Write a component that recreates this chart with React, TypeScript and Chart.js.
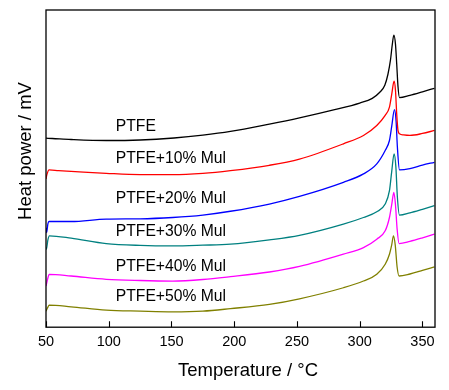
import React, { useEffect, useRef } from "react";
import { Chart, registerables } from "chart.js";

Chart.register(...registerables);

const xTicks = [50, 100, 150, 200, 250, 300, 350];
const seriesNames = ["PTFE", "PTFE+10% Mul", "PTFE+20% Mul", "PTFE+30% Mul", "PTFE+40% Mul", "PTFE+50% Mul"];
const seriesColors = ["#000000", "#ff0000", "#0000ff", "#008080", "#ff00ff", "#808000"];

const ptfeT = [50, 55, 70, 98, 125, 152, 175, 197, 228, 252, 280, 300, 310, 316, 320, 322.5, 324.5, 326, 327.2, 328.5, 329.5, 330.5, 331.7, 340, 350, 359.5];
const ptfeV = [188.3, 188, 187, 186, 186.5, 188.5, 191.3, 195, 202.3, 208.5, 216.7, 223.3, 228, 234, 241, 252, 266, 282, 291, 282, 262, 240, 228.7, 231, 234.5, 238];

const mul10T = [50, 50.7, 52.5, 60, 70, 98, 125, 151, 175, 197, 228, 252, 287, 303, 313.6, 320.3, 323.7, 325.5, 327.4, 328.5, 329.5, 330.5, 331.7, 335, 340, 350, 359.5];
const mul10V = [147.7, 152, 156.7, 156, 155.3, 153.3, 152, 152, 153.3, 156, 161.3, 167.5, 182.7, 191, 201, 211, 219.3, 232, 245, 236, 212, 196, 192.7, 191.5, 191, 193, 196];

const mul20T = [50, 50.5, 51.5, 52.4, 70, 98, 125, 151, 175, 197, 228, 252, 287, 303, 313.6, 320.3, 323.7, 325.5, 327.7, 329, 330, 331.7, 340, 350, 359.5];
const mul20V = [99, 94.3, 103, 105.3, 105.3, 107.7, 108, 109.3, 111.7, 115.5, 122.7, 130.3, 144.3, 152.7, 162.7, 176, 186, 200, 216.7, 205, 180, 156.7, 158, 161.5, 164.3];

const mul30T = [50, 50.3, 51.5, 52.7, 70, 98, 125, 151, 175, 197, 228, 252, 287, 303, 313.6, 320.3, 323.7, 325.5, 327.4, 328.8, 330, 331.7, 340, 350, 359.5];
const mul30V = [80, 77.7, 87, 91, 88.7, 83.3, 81.5, 81, 81.7, 82.7, 87, 91.5, 102.7, 109.3, 115, 122.7, 136, 155, 172.7, 160, 130, 111.7, 114, 117.5, 121];

const mul40T = [50, 51.5, 52.5, 70, 98, 125, 151, 175, 197, 228, 252, 287, 303, 313.6, 320.3, 323.7, 325.5, 327.2, 328.5, 329.8, 331.4, 340, 350, 359.5];
const mul40V = [41, 49, 52.7, 51, 47.7, 46.5, 46, 47.5, 50.3, 55, 60.5, 72.7, 79.3, 87.7, 96, 109.3, 122, 134.3, 122, 98, 83.3, 85.5, 89, 92.7];

const mul50T = [50, 51.5, 52.5, 70, 98, 125, 151, 175, 197, 228, 252, 287, 303, 313.6, 320.3, 323.7, 325.5, 326.9, 328.3, 329.8, 331.4, 340, 350, 359.5];
const mul50V = [16, 20, 22, 20.3, 17, 16, 15.3, 16, 18.5, 22.7, 28.3, 39.3, 46, 52.7, 62.7, 72.7, 82, 91, 82, 60, 51, 53, 56.5, 60];

const seriesT = [ptfeT, mul10T, mul20T, mul30T, mul40T, mul50T];
const seriesV = [ptfeV, mul10V, mul20V, mul30V, mul40V, mul50V];

// label anchors (data units)
const labelX = 105.6;
const labelY = [200, 167.5, 128, 95, 60, 30.5];

const FONT = "'Liberation Sans', Arial, sans-serif";

const decorPlugin = {
  id: "decor",
  afterDraw(chart: any) {
    const { ctx, chartArea } = chart;
    const xs = chart.scales.x;
    const ys = chart.scales.y;
    const { left, right, top, bottom } = chartArea;
    ctx.save();
    ctx.strokeStyle = "#000";
    ctx.lineWidth = 1.3;
    ctx.strokeRect(left, top, right - left, bottom - top);
    ctx.lineWidth = 1.1;
    ctx.beginPath();
    xTicks.forEach((v) => {
      const px = Math.round(xs.getPixelForValue(v)) + 0.5;
      ctx.moveTo(px, bottom);
      ctx.lineTo(px, bottom - 6);
    });
    ctx.stroke();
    ctx.fillStyle = "#000";
    ctx.font = `15.7px ${FONT}`;
    ctx.textAlign = "left";
    ctx.textBaseline = "middle";
    seriesNames.forEach((n, i) => {
      ctx.fillText(n, xs.getPixelForValue(labelX), ys.getPixelForValue(labelY[i]));
    });
    ctx.font = `18.5px ${FONT}`;
    ctx.textAlign = "center";
    ctx.textBaseline = "middle";
    ctx.fillText("Temperature / \u00B0C", 248, 371);
    ctx.save();
    ctx.translate(26, 151);
    ctx.rotate(-Math.PI / 2);
    ctx.fillText("Heat power / mV", 0, 0);
    ctx.restore();
    ctx.restore();
  },
};

export default function App() {
  const ref = useRef<HTMLCanvasElement>(null);
  useEffect(() => {
    if (!ref.current) return;
    const datasets = seriesNames.map((name, i) => ({
      label: name,
      data: seriesT[i].map((t, j) => ({ x: t, y: seriesV[i][j] })),
      borderColor: seriesColors[i],
      backgroundColor: seriesColors[i],
      borderWidth: 1.3,
      pointRadius: 0,
      cubicInterpolationMode: "monotone" as const,
      fill: false,
    }));
    const chart = new Chart(ref.current, {
      type: "line",
      data: { datasets },
      options: {
        responsive: false,
        animation: false,
        devicePixelRatio: 1,
        layout: { padding: { left: 46, right: 14, top: 10, bottom: 33.4 } },
        plugins: { legend: { display: false }, tooltip: { enabled: false } },
        scales: {
          x: {
            type: "linear",
            min: 50,
            max: 360,
            afterBuildTicks: (scale: any) => {
              scale.ticks = xTicks.map((v) => ({ value: v }));
            },
            grid: { display: false, drawTicks: false },
            border: { display: false },
            ticks: {
              padding: 6,
              color: "#000",
              maxRotation: 0,
              autoSkip: false,
              font: { family: FONT, size: 14.5 },
            },
          },
          y: {
            type: "linear",
            display: false,
            min: 0,
            max: 316,
          },
        },
      },
      plugins: [decorPlugin],
    });
    return () => chart.destroy();
  }, []);
  return (
    <div style={{ position: "absolute", left: 0, top: 0, width: 449, height: 390, background: "#fff" }}>
      <canvas ref={ref} width={449} height={390} style={{ display: "block" }} />
    </div>
  );
}
